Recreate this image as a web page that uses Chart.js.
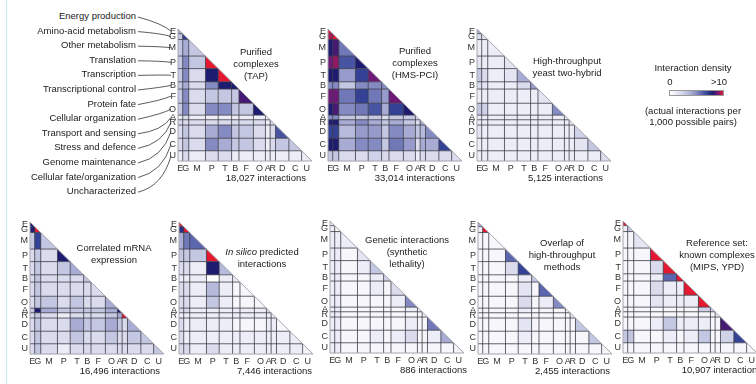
<!DOCTYPE html>
<html lang="en">
<head>
<meta charset="UTF-8">
<title>Interaction density between functional categories</title>
<script src="https://cdn.jsdelivr.net/npm/chart.js"></script>
<style>
  body { margin: 0; background: #fff; }
  #fig { position: relative; width: 756px; height: 384px; overflow: hidden;
         font-family: 'Liberation Sans', Arial, sans-serif; color: #1a1a1a; }
  #fig canvas { position: absolute; }
  #edge { position: absolute; left: 6px; top: 0; width: 1px; height: 384px; background: #c6eef6; }
  .t { position: absolute; height: 12px; line-height: 12px; font-size: 9.5px; white-space: nowrap; }
  #bar { position: absolute; left: 669px; top: 90px; width: 55px; height: 6px; border: 1px solid #999; box-sizing: border-box; }
  #leaders { position: absolute; left: 0; top: 0; }
</style>
</head>
<body>
<div id="fig">
  <div id="edge"></div>
  <div id="bar"></div>
  <svg id="leaders" width="756" height="384"></svg>
</div>
<script>
// functional categories, relative size (number of proteins) sets the cell widths
const CATS = ['E', 'G', 'M', 'P', 'T', 'B', 'F', 'O', 'A', 'R', 'D', 'C', 'U'];
const CAT_NAMES = ['Energy production', 'Amino-acid metabolism', 'Other metabolism', 'Translation',
  'Transcription', 'Transcriptional control', 'Protein fate', 'Cellular organization',
  'Transport and sensing', 'Stress and defence', 'Genome maintenance',
  'Cellular fate/organization', 'Uncharacterized'];
const CAT_SIZES = [14, 18, 50, 38, 40, 22, 43, 36, 14, 16, 40, 38, 31];

// interaction density (interactions per 1,000 possible pairs, capped at 10), lower triangle
const TAP = [
  [4],
  [3, 7],
  [3, 4, 3],
  [3, 5, 3, 10],
  [3, 5, 2, 8, 10],
  [3, 4, 2, 5, 8, 8],
  [3, 5, 2, 3, 3, 3, 8.5],
  [3, 5, 2, 5, 5, 3, 3, 8],
  [1, 2, 1, 1, 1, 1, 1, 1, 1],
  [2, 2, 2, 2, 2, 2, 2, 2, 1, 2],
  [2, 3, 2, 4, 5, 3, 3, 2, 1, 2, 6.5],
  [2, 3, 2, 5, 4, 3, 3, 2, 1, 2, 3, 3],
  [1, 2, 1, 2, 2, 1, 1, 1, 1, 1, 1, 1, 1]
];
const HMS_PCI = [
  [10],
  [9.5, 10],
  [8, 8.5, 5.5],
  [9, 9.3, 6.5, 8],
  [8, 8, 4.5, 7, 9],
  [5, 5, 3, 5, 5, 5],
  [9, 9, 5.5, 7, 5.5, 4.5, 9],
  [8, 8.5, 5, 5.5, 6.5, 4, 7, 8],
  [5, 5, 3, 3, 3, 2, 3, 3, 2],
  [8, 8, 4, 5, 4, 3, 4, 3, 2, 4],
  [7, 7, 3.5, 4.5, 4.5, 3, 5, 4, 3, 3.5, 5],
  [8, 8, 4, 5, 5, 3, 5.5, 4.5, 2, 4, 4, 7],
  [3, 3, 2, 2, 2.5, 2, 2, 2, 1, 2, 2, 2, 2]
];
const Y2H = [
  [4],
  [2, 1.5],
  [1, 1, 1],
  [1.5, 1, 1, 1.5],
  [3, 2, 1, 1.5, 4],
  [2, 1.5, 1, 1, 2, 4.5],
  [1, 1, 1, 1, 1, 1, 1.5],
  [3, 2.5, 1, 1, 1, 1, 1, 5],
  [1, 1, 1, 1, 1, 1, 1, 1, 1],
  [1, 1, 1, 1, 1, 1, 1, 1, 1, 1],
  [1.5, 1, 1, 1, 1, 1, 1, 1, 1, 1, 2.5],
  [1, 1, 1, 1, 1, 1, 1, 1, 1, 1, 1.5, 3],
  [1, 1, 1, 1, 1, 1, 1, 1, 1, 1, 1, 1, 2]
];
const MRNA = [
  [8],
  [8, 10],
  [3, 7, 3],
  [2, 3, 2, 8],
  [2, 3, 2, 3, 4],
  [2, 3, 2, 2, 2, 3],
  [2, 3, 2, 2, 2, 2, 2],
  [2, 3, 3, 2, 3, 2, 2, 4],
  [3, 8, 4, 3, 3, 3, 3, 4, 8],
  [2, 3, 2, 1, 2, 2, 2, 3, 4, 10],
  [2, 3, 2, 2, 4, 3, 3, 4, 3, 2, 4],
  [2, 3, 2, 2, 3, 2, 2, 3, 2, 2, 3, 3],
  [2, 3, 2, 1, 2, 2, 2, 2, 2, 2, 2, 2, 3]
];
const IN_SILICO = [
  [10],
  [7.5, 10],
  [4, 5.5, 6],
  [3, 3, 3, 10],
  [2, 2, 1, 8, 3.5],
  [1, 1, 1, 0, 1, 1],
  [2, 2, 1, 3.5, 1, 0.5, 0.5],
  [2, 2, 1, 3, 1, 0.5, 0.5, 0.5],
  [2, 2, 1, 1, 1, 1, 1, 1, 2],
  [1, 1, 1, 1, 1, 1, 1, 1, 1, 1],
  [2, 1, 1, 1, 1, 0.5, 0.5, 0.5, 1, 1, 0.5],
  [2, 1, 1, 1, 1, 1, 1, 1, 1, 1, 1, 1],
  [2, 2, 1, 2, 1, 1, 1, 1, 1, 1, 1, 1, 0.5]
];
const SYNTH_LETHAL = [
  [1],
  [1, 0.5],
  [1, 1, 1],
  [1, 1, 0.5, 1.5],
  [1, 1, 0.5, 1, 3],
  [1, 1, 0.5, 0.5, 1, 2.5],
  [1, 1, 0.5, 0.5, 1, 0.5, 2],
  [1, 1, 0.5, 0.5, 0.5, 0.5, 1, 5],
  [1, 1, 0.5, 0.5, 0.5, 0.5, 0.5, 1, 1],
  [1, 1, 0.5, 0.5, 0.5, 0.5, 0.5, 0.5, 0.5, 1],
  [1, 1, 0.5, 0.5, 0.5, 0.5, 0.5, 1, 0.5, 0.5, 5.5],
  [1, 1, 0.5, 0.5, 1, 0.5, 1, 2, 0.5, 0.5, 1, 4],
  [1, 1, 0.5, 0.5, 0.5, 0.5, 0.5, 0.5, 0.5, 0.5, 0.5, 0.5, 0.5]
];
const OVERLAP = [
  [4],
  [1, 10],
  [0.5, 0.5, 0.5],
  [0.5, 0.5, 0.5, 6],
  [0.5, 0.5, 0.5, 2, 7],
  [0.5, 0.5, 0.5, 0.5, 1, 3],
  [0.5, 0.5, 0.5, 0.5, 1.5, 0.5, 6],
  [0.5, 0.5, 0.5, 0.5, 2, 0.5, 1, 5],
  [0.5, 0.5, 0.5, 0.5, 1, 0.5, 0.5, 0.5, 1],
  [0.5, 0.5, 0.5, 0.5, 0.5, 0.5, 0.5, 0.5, 0.5, 1],
  [0.5, 0.5, 0.5, 0.5, 1.5, 0.5, 0.5, 0.5, 0.5, 0.5, 3],
  [0.5, 0.5, 0.5, 0.5, 1, 0.5, 0.5, 0.5, 0.5, 0.5, 0.5, 3],
  [0.5, 0.5, 0.5, 0.5, 0.5, 0.5, 0.5, 0.5, 0.5, 0.5, 0.5, 0.5, 0.5]
];
const REFERENCE = [
  [10],
  [1, 3],
  [0.5, 0.5, 1.5],
  [0.5, 0.5, 0.5, 10],
  [0.5, 0.5, 0.5, 2, 10],
  [0.5, 0.5, 0.5, 1, 6, 10],
  [0.5, 0.5, 0.5, 2, 1, 1, 10],
  [0.5, 0.5, 0.5, 1.5, 1, 1, 1, 10],
  [0.5, 0.5, 0.5, 0.5, 0.5, 0.5, 0.5, 2.5, 2.5],
  [0.5, 0.5, 0.5, 0.5, 0.5, 0.5, 0.5, 0.5, 0.5, 1],
  [0.5, 0.5, 0.5, 1, 3, 1, 1, 1, 0.5, 0.5, 8.5],
  [3, 3, 0.5, 0.5, 1, 0.5, 1, 3, 0.5, 0.5, 2.5, 7],
  [0.5, 0.5, 0.5, 0.5, 0.5, 0.5, 0.5, 0.5, 0.5, 0.5, 0.5, 0.5, 0.5]
];

const MATRICES = [TAP, HMS_PCI, Y2H, MRNA, IN_SILICO, SYNTH_LETHAL, OVERLAP, REFERENCE];
const TITLES = [
  ['Purified', 'complexes', '(TAP)'],
  ['Purified', 'complexes', '(HMS-PCI)'],
  ['High-throughput', 'yeast two-hybrid'],
  ['Correlated mRNA', 'expression'],
  ['<i>In silico</i> predicted', 'interactions'],
  ['Genetic interactions', '(synthetic', 'lethality)'],
  ['Overlap of', 'high-throughput', 'methods'],
  ['Reference set:', 'known complexes', '(MIPS, YPD)']
];
const COUNTS = ['18,027', '33,014', '5,125', '16,496', '7,446', '886', '2,455', '10,907'];

// layout: triangle box (left, top), title centre, count right edge
const BOX_W = 134, BOX_H = 132;
const LAYOUT = [
  { x: 178, y: 29,  tx: 256, ty: 52,  cx: 306 },
  { x: 328, y: 29,  tx: 415, ty: 51,  cx: 455 },
  { x: 477, y: 29,  tx: 567, ty: 61,  cx: 603 },
  { x: 30,  y: 222, tx: 114, ty: 248, cx: 160 },
  { x: 179, y: 222, tx: 262, ty: 252, cx: 312 },
  { x: 330, y: 221, tx: 407, ty: 240, cx: 467 },
  { x: 478, y: 222, tx: 562, ty: 243, cx: 610 },
  { x: 623, y: 221, tx: 717, ty: 243, cx: 762 }
];

const STOPS = [[255,255,255],[236,237,246],[218,220,238],[196,199,226],[168,172,212],
  [132,138,194],[92,102,174],[52,66,150],[30,28,112],[110,24,120],[228,24,48]];

const EDGES = [0];
CAT_SIZES.forEach(s => EDGES.push(EDGES[EDGES.length - 1] + s));
const TOTAL = EDGES[EDGES.length - 1];
const CENTERS = CAT_SIZES.map((s, i) => EDGES[i] + s / 2);

function densityColor(v) {
  const t = Math.max(0, Math.min(10, v));
  const i = Math.min(9, Math.floor(t));
  const f = t - i;
  const a = STOPS[i], b = STOPS[i + 1];
  const c = a.map((q, k) => Math.round(q + (b[k] - q) * f));
  return `rgb(${c[0]},${c[1]},${c[2]})`;
}

const fig = document.getElementById('fig');

function addText(html, x, y, align) {
  const d = document.createElement('div');
  d.className = 't';
  d.innerHTML = html;
  d.style.top = (y - 6) + 'px';
  d.style.width = '200px';
  d.style.textAlign = align;
  d.style.left = (align === 'center' ? x - 100 : align === 'right' ? x - 200 : x) + 'px';
  fig.appendChild(d);
}

const cellPlugin = {
  id: 'cells',
  beforeDatasetsDraw(chart, args, opts) {
    const m = opts.matrix;
    const xs = chart.scales.x, ys = chart.scales.y;
    const px = v => xs.getPixelForValue(v), py = v => ys.getPixelForValue(v);
    const ctx = chart.ctx;
    ctx.save();
    for (let i = 0; i < m.length; i++) {
      for (let j = 0; j <= i; j++) {
        const x0 = px(EDGES[j]), x1 = px(EDGES[j + 1]);
        const y0 = py(EDGES[i]), y1 = py(EDGES[i + 1]);
        ctx.fillStyle = densityColor(m[i][j]);
        ctx.beginPath();
        if (i === j) {
          ctx.moveTo(x0, y0); ctx.lineTo(x0, y1); ctx.lineTo(x1, y1);
        } else {
          ctx.rect(x0, y0, x1 - x0 + 0.3, y1 - y0 + 0.3);
        }
        ctx.closePath();
        ctx.fill();
      }
    }
    // category borders inside the triangle
    ctx.strokeStyle = '#3c3c46';
    ctx.lineWidth = 0.8;
    for (let k = 1; k < EDGES.length - 1; k++) {
      const x = px(EDGES[k]), y = py(EDGES[k]);
      ctx.beginPath(); ctx.moveTo(x, y); ctx.lineTo(x, py(TOTAL)); ctx.stroke();
      ctx.beginPath(); ctx.moveTo(px(0), y); ctx.lineTo(x, y); ctx.stroke();
    }
    ctx.strokeStyle = '#a6a6ae';
    ctx.lineWidth = 1;
    ctx.beginPath();
    ctx.moveTo(px(0), py(0)); ctx.lineTo(px(0), py(TOTAL)); ctx.lineTo(px(TOTAL), py(TOTAL));
    ctx.closePath();
    ctx.stroke();
    ctx.restore();
  }
};

Chart.defaults.font.family = "'Liberation Sans', Arial, sans-serif";
const AX_W = 14, AX_H = 14, PAD = 4;

function axis(extra) {
  return Object.assign({
    type: 'linear', min: 0, max: TOTAL,
    grid: { display: false, drawTicks: false }, border: { display: false },
    afterBuildTicks: s => { s.ticks = CENTERS.map(v => ({ value: v })); },
    ticks: { autoSkip: false, maxRotation: 0, padding: 2, color: '#333',
             font: { size: 9 }, callback: (v, i) => CATS[i] }
  }, extra);
}

MATRICES.forEach((m, p) => {
  const L = LAYOUT[p];
  const cv = document.createElement('canvas');
  cv.width = AX_W + BOX_W + PAD;
  cv.height = PAD + BOX_H + AX_H;
  cv.style.left = (L.x - AX_W) + 'px';
  cv.style.top = (L.y - PAD) + 'px';
  fig.appendChild(cv);
  new Chart(cv, {
    type: 'scatter',
    data: { datasets: [] },
    options: {
      responsive: false,
      animation: false,
      layout: { padding: { top: PAD, right: PAD, left: 0, bottom: 0 } },
      plugins: { legend: { display: false }, tooltip: { enabled: false }, cells: { matrix: m } },
      scales: {
        x: axis({ position: 'bottom',
          afterFit: s => { s.height = AX_H; s.paddingLeft = 0; s.paddingRight = 0; } }),
        y: axis({ position: 'left', reverse: true,
          afterFit: s => { s.width = AX_W; s.paddingTop = 0; s.paddingBottom = 0; } })
      }
    },
    plugins: [cellPlugin]
  });
  TITLES[p].forEach((line, k) => addText(line, L.tx, L.ty + k * 12, 'center'));
  addText(COUNTS[p] + ' interactions', L.cx, L.y + BOX_H + 17, 'right');
});

// category names with leader lines to the first panel's row letters
const svg = document.getElementById('leaders');
CAT_NAMES.forEach((name, i) => {
  const yName = 16 + i * 14.6;
  addText(name, 136, yName, 'right');
  const yLetter = LAYOUT[0].y + CENTERS[i] / TOTAL * BOX_H;
  const x0 = 138, x1 = 171;
  const path = document.createElementNS('http://www.w3.org/2000/svg', 'path');
  const cx = x0 + (x1 - x0) * 0.75, cy = yName + (yLetter - yName) * (i > 7 ? 0.15 : 0.5);
  path.setAttribute('d', `M${x0},${yName + 1} Q${cx},${cy} ${x1},${yLetter}`);
  path.setAttribute('fill', 'none');
  path.setAttribute('stroke', '#333');
  path.setAttribute('stroke-width', '0.8');
  svg.appendChild(path);
});

// colour key
addText('Interaction density', 693, 68, 'center');
addText('0', 670, 82, 'center');
addText('&gt;10', 719, 82, 'center');
addText('(actual interactions per', 693, 111, 'center');
addText('1,000 possible pairs)', 693, 122, 'center');
document.getElementById('bar').style.background =
  'linear-gradient(to right,' + STOPS.map(c => `rgb(${c.join(',')})`).join(',') + ')';
</script>
</body>
</html>
